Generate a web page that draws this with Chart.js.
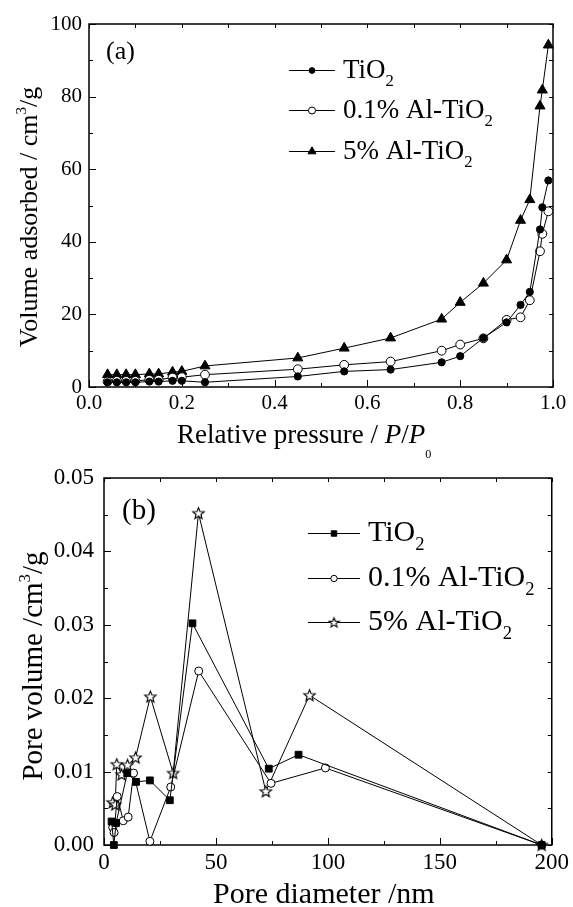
<!DOCTYPE html>
<html><head><meta charset="utf-8">
<script src="https://cdn.jsdelivr.net/npm/chart.js@4/dist/chart.umd.min.js"></script>
<style>
html,body{margin:0;padding:0;background:#fff;}
#wrap{position:relative;width:573px;height:907px;background:#fff;overflow:hidden;}
canvas{position:absolute;left:0;top:0;}
</style></head><body>
<div id="wrap">
<canvas id="ca" width="573" height="907"></canvas>
<canvas id="cb" width="573" height="907"></canvas>
</div>
<script>
// ---------- Panel (a): N2 adsorption isotherms ----------
const relPressure = [0.04,0.06,0.08,0.10,0.13,0.15,0.18,0.20,0.25,0.45,0.55,0.65,0.76,0.80,0.85,0.90,0.93,0.95,0.972,0.977,0.99];
const volTiO2  = [1.3,1.3,1.3,1.3,1.5,1.5,1.7,1.7,1.3,2.9,4.3,4.8,6.8,8.5,13.5,17.8,22.6,26.2,43.4,49.5,56.9];
const volAl01  = [1.5,1.7,1.7,1.7,2.0,2.0,2.6,2.7,3.4,4.9,6.1,7.0,10.0,11.7,13.4,18.5,19.2,23.9,37.4,42.2,48.4];
const volAl5   = [3.4,3.4,3.4,3.4,3.6,3.6,4.1,4.3,5.8,8.0,10.7,13.5,18.7,23.3,28.6,35.0,45.9,51.6,77.4,81.8,94.2];
const seriesNames = ['TiO2','0.1% Al-TiO2','5% Al-TiO2'];
const xTicksA = [0.0,0.2,0.4,0.6,0.8,1.0];
const yTicksA = [0,20,40,60,80,100];

// ---------- Panel (b): pore size distribution ----------
const diamTiO2 = [3.4,4.4,5.4,10.4,14.3,20.5,29.4,39.5,73.6,86.9,195.5];
const poreTiO2 = [0.0032,0.0,0.0030,0.0098,0.0086,0.0088,0.0061,0.0302,0.0104,0.0123,0.0];
const diamAl01 = [3.9,4.5,5.9,8.6,10.8,13.2,20.5,29.8,42.3,74.6,98.9,195.5];
const poreAl01 = [0.0024,0.0017,0.0066,0.0033,0.0038,0.0098,0.0005,0.0079,0.0237,0.0084,0.0105,0.0];
const diamAl5  = [3.9,5.0,5.7,7.9,10.5,14.1,20.7,30.9,42.2,72.3,91.8,195.5];
const poreAl5  = [0.0058,0.0055,0.0110,0.0096,0.0109,0.0119,0.0202,0.0098,0.0452,0.0073,0.0204,0.0];
const xTicksB = [0,50,100,150,200];
const yTicksB = [0.00,0.01,0.02,0.03,0.04,0.05];

const FONT = '"Liberation Serif", "Times New Roman", serif';

function pts(xs, ys){ return xs.map((x,i)=>({x:x, y:ys[i]})); }

function makeStar(size, ro, ri){
  const c = document.createElement('canvas'); c.width = size; c.height = size;
  const g = c.getContext('2d'); const cx = size/2, cy = size/2 + 0.4;
  g.beginPath();
  for(let k=0;k<10;k++){ const r = k%2 ? ri : ro; const a = -Math.PI/2 + k*Math.PI/5;
    const px = cx + r*Math.cos(a), py = cy + r*Math.sin(a); if(k) g.lineTo(px,py); else g.moveTo(px,py); }
  g.closePath(); g.fillStyle = '#fff'; g.fill(); g.lineWidth = 1.1; g.strokeStyle = '#000'; g.stroke();
  return c;
}
const starImg = makeStar(15, 6.0, 2.6);
const starImgSmall = makeStar(13, 5.2, 2.2);

function fontStr(px, italic){ return (italic?'italic ':'') + px.toFixed(1) + 'px ' + FONT; }

function drawRich(ctx, segs, x, y, size, align, rot){
  ctx.save(); ctx.translate(x,y); if(rot) ctx.rotate(rot);
  ctx.fillStyle = '#000'; ctx.textBaseline = 'alphabetic'; ctx.textAlign = 'left';
  let total = 0;
  const m = segs.map(s=>{
    let f = 1, dy = 0;
    if(s.sub){ f = s.f || 0.62; dy = (s.dy!==undefined ? s.dy : 0.3)*size; }
    if(s.sup){ f = s.f || 0.58; dy = -(s.dy!==undefined ? s.dy : 0.42)*size; }
    const fs = fontStr(size*f, s.it); ctx.font = fs; const w = ctx.measureText(s.t).width; total += w;
    return {t:s.t, fs:fs, dy:dy, w:w};
  });
  let cx = align==='center' ? -total/2 : 0;
  m.forEach(s=>{ ctx.font = s.fs; ctx.fillText(s.t, cx, s.dy); cx += s.w; });
  ctx.restore();
}

function nameSegs(name){
  if(/O2$/.test(name)) return [{t:name.slice(0,-1)},{t:'2',sub:true}];
  return [{t:name}];
}

function drawMarker(ctx, ds, x, y, scale){
  const r = ds.pointRadius*scale; const st = ds.pointStyle;
  ctx.save(); ctx.lineWidth = 1; ctx.strokeStyle = '#000'; ctx.fillStyle = ds.pointBackgroundColor;
  if(st instanceof HTMLCanvasElement){ ctx.drawImage(st, x-st.width/2, y-st.height/2); ctx.restore(); return; }
  ctx.beginPath();
  if(st==='circle'){ ctx.arc(x,y,r,0,Math.PI*2); }
  else if(st==='triangle'){ ctx.moveTo(x, y-r); ctx.lineTo(x+r*Math.cos(Math.PI/6), y+r/2); ctx.lineTo(x-r*Math.cos(Math.PI/6), y+r/2); ctx.closePath(); }
  else if(st==='rect'){ const s = Math.SQRT1_2*r; ctx.rect(x-s,y-s,2*s,2*s); }
  ctx.fill(); ctx.stroke(); ctx.restore();
}

const frameTicks = {
  id:'frameTicks',
  beforeDatasetsDraw(chart, args, o){
    const ctx = chart.ctx, a = chart.chartArea, xs = chart.scales.x, ys = chart.scales.y;
    const mids = arr => arr.slice(1).map((v,i)=>(v+arr[i])/2);
    ctx.save(); ctx.strokeStyle = '#000'; ctx.lineWidth = 1;
    ctx.beginPath();
    const addX = (v, lenB, lenT)=>{ const p = Math.round(xs.getPixelForValue(v))+0.5;
      ctx.moveTo(p, a.bottom); ctx.lineTo(p, a.bottom-lenB); ctx.moveTo(p, a.top); ctx.lineTo(p, a.top+lenT); };
    const addY = (v, lenL, lenR)=>{ const p = Math.round(ys.getPixelForValue(v))+0.5;
      ctx.moveTo(a.left, p); ctx.lineTo(a.left+lenL, p); ctx.moveTo(a.right, p); ctx.lineTo(a.right-lenR, p); };
    o.xMajor.forEach(v=>addX(v,7,4)); mids(o.xMajor).forEach(v=>addX(v,4,4));
    o.yMajor.forEach(v=>addY(v,7,4)); mids(o.yMajor).forEach(v=>addY(v,4,4));
    ctx.stroke();
    ctx.lineWidth = 1.5;
    ctx.strokeRect(a.left, a.top, a.right-a.left, a.bottom-a.top);
    ctx.restore();
  }
};

const decor = {
  id:'decor',
  afterDatasetsDraw(chart, args, o){
    const ctx = chart.ctx;
    (o.texts||[]).forEach(t=>drawRich(ctx, t.segs, t.x, t.y, t.size, t.align, t.rot));
    const L = o.legend;
    if(L){
      chart.data.datasets.forEach((ds,i)=>{
        const y = L.rows[i];
        ctx.save(); ctx.strokeStyle = '#000'; ctx.lineWidth = 1;
        ctx.beginPath(); ctx.moveTo(L.x1, y+0.5); ctx.lineTo(L.x2, y+0.5); ctx.stroke(); ctx.restore();
        drawMarker(ctx, Object.assign({}, ds, {pointStyle: ds.legendStyle || ds.pointStyle}), (L.x1+L.x2)/2, y+0.5, 0.8);
        drawRich(ctx, nameSegs(ds.label), L.tx, y + L.size*0.28, L.size, 'left', 0);
      });
    }
  }
};

function scaleOpts(min, max, ticks, fmt, size, pad, fitProp, fitVal){
  return {
    type:'linear', min:min, max:max,
    afterBuildTicks: s=>{ s.ticks = ticks.map(v=>({value:v})); },
    afterFit: s=>{ s[fitProp] = fitVal; },
    grid:{display:false, drawTicks:false}, border:{display:false},
    ticks:{ color:'#000', font:{family:FONT, size:size}, padding:pad, autoSkip:false, maxRotation:0, minRotation:0,
      callback: v=>fmt(v) }
  };
}

function ds(label, data, style, fill, r, extra){
  return Object.assign({
    label:label, data:data, borderColor:'#000', borderWidth:1, tension:0, fill:false,
    pointStyle:style, pointRadius:r, pointHoverRadius:r, pointBorderWidth:1, pointBorderColor:'#000',
    pointBackgroundColor: fill ? '#000' : '#fff', showLine:true, clip:false
  }, extra||{});
}

// ---------------- Chart (a) ----------------
new Chart(document.getElementById('ca'), {
  type:'scatter',
  data:{ datasets:[
    ds(seriesNames[0], pts(relPressure, volTiO2), 'circle', true, 3.6),
    ds(seriesNames[1], pts(relPressure, volAl01), 'circle', false, 4.4),
    ds(seriesNames[2], pts(relPressure, volAl5), 'triangle', true, 5.8)
  ]},
  options:{
    responsive:false, animation:false, devicePixelRatio:1,
    layout:{padding:{left:0, right:20, top:24, bottom:457}},
    scales:{
      x: scaleOpts(0, 1, xTicksA, v=>v.toFixed(1), 21, 4, 'height', 63),
      y: scaleOpts(0, 100, yTicksA, v=>String(v), 21, 7, 'width', 89)
    },
    plugins:{
      legend:{display:false}, tooltip:{enabled:false},
      frameTicks:{xMajor:xTicksA, yMajor:yTicksA},
      decor:{
        texts:[
          {segs:[{t:'(a)'}], x:106, y:59, size:26, align:'left'},
          {segs:[{t:'Relative pressure / '},{t:'P',it:true},{t:'/'},{t:'P',it:true},{t:'0',sub:true,f:0.45,dy:0.55}], x:177, y:443, size:27, align:'left'},
          {segs:[{t:'Volume adsorbed / cm'},{t:'3',sup:true},{t:'/g'}], x:37, y:217, size:26, align:'center', rot:-Math.PI/2}
        ],
        legend:{x1:289, x2:335, tx:343, rows:[70,110,151], size:27}
      }
    }
  },
  plugins:[frameTicks, decor]
});

// ---------------- Chart (b) ----------------
new Chart(document.getElementById('cb'), {
  type:'scatter',
  data:{ datasets:[
    ds(seriesNames[0], pts(diamTiO2, poreTiO2), 'rect', true, 4.8),
    ds(seriesNames[1], pts(diamAl01, poreAl01), 'circle', false, 4.0),
    ds(seriesNames[2], pts(diamAl5, poreAl5), starImg, false, 5, {legendStyle: starImgSmall})
  ]},
  options:{
    responsive:false, animation:false, devicePixelRatio:1,
    layout:{padding:{left:0, right:20, top:478, bottom:0}},
    scales:{
      x: scaleOpts(0, 200, xTicksB, v=>String(v), 23, 4, 'height', 62),
      y: scaleOpts(0, 0.05, yTicksB, v=>v.toFixed(2), 23, 10, 'width', 104)
    },
    plugins:{
      legend:{display:false}, tooltip:{enabled:false},
      frameTicks:{xMajor:xTicksB, yMajor:yTicksB},
      decor:{
        texts:[
          {segs:[{t:'(b)'}], x:122, y:519, size:29, align:'left'},
          {segs:[{t:'Pore diameter /nm'}], x:213, y:903, size:30, align:'left'},
          {segs:[{t:'Pore volume /cm'},{t:'3',sup:true},{t:'/g'}], x:42, y:666, size:29, align:'center', rot:-Math.PI/2}
        ],
        legend:{x1:308, x2:360, tx:368, rows:[533,578,622], size:30}
      }
    }
  },
  plugins:[frameTicks, decor]
});
</script>
</body></html>
